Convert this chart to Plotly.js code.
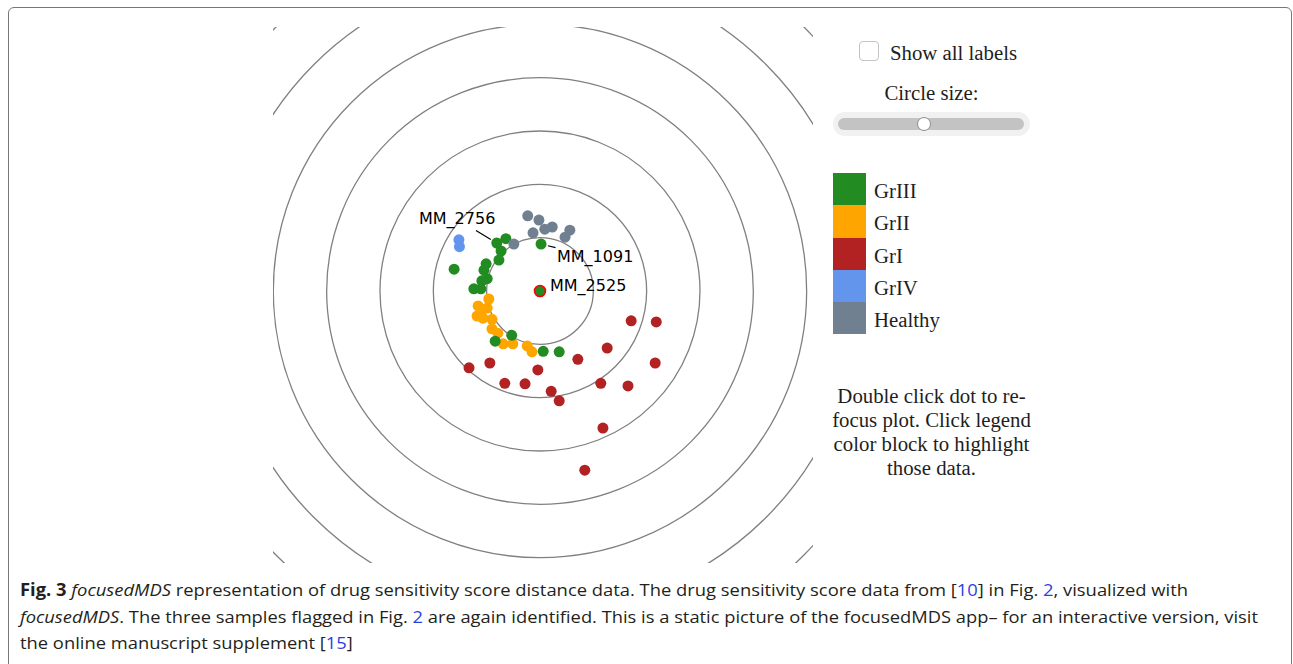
<!DOCTYPE html>
<html>
<head>
<meta charset="utf-8">
<script src="https://cdn.plot.ly/plotly-3.0.1.min.js"></script>
<style>
  html, body { margin:0; padding:0; width:1293px; height:664px; overflow:hidden; background:#fff; }
  #frame { position:absolute; left:8px; top:7px; width:1284px; height:720px; border:1.4px solid #777; border-radius:6px; box-sizing:border-box; }
  #plot { position:absolute; left:0; top:0; width:1293px; height:664px; }
  .serif { font-family:"Liberation Serif", "DejaVu Serif", serif; color:#1e1e1e; font-size:20.8px; }
  #chk { position:absolute; left:859px; top:41px; width:20px; height:20px; border:1px solid #c4c4c4; border-radius:4px; box-sizing:border-box; background:#fff; }
  #chkLabel { position:absolute; left:890px; top:41px; line-height:24px; white-space:nowrap; }
  #sizeLabel { position:absolute; left:833px; width:197px; top:81px; line-height:24px; text-align:center; }
  #sliderOuter { position:absolute; left:833px; top:112px; width:197px; height:24px; border-radius:12px; background:#f1f1f1; }
  #sliderTrack { position:absolute; left:838px; top:118px; width:186px; height:12px; border-radius:6px; background:#c3c3c3; }
  #sliderThumb { position:absolute; left:917px; top:117px; width:14px; height:14px; border-radius:50%; background:#fff; border:1px solid #8d8d8d; box-sizing:border-box; }
  #legend { position:absolute; left:833px; top:173px; }
  .lrow { position:relative; height:32.3px; }
  .lsw { position:absolute; left:0; top:0; width:33px; height:32.3px; }
  .ltx { position:absolute; left:41px; top:6px; line-height:24px; white-space:nowrap; }
  #note { position:absolute; left:821px; width:221px; top:384px; line-height:24px; text-align:center; }
  #caption { position:absolute; left:20px; top:577px; font-family:"Open Sans","Noto Sans",sans-serif; font-size:17px; color:#231f20; }
  .cl { white-space:nowrap; height:26.5px; line-height:26.5px; transform-origin:0 50%; display:block; width:max-content; }
  .lnk { color:#2f3fe0; }
</style>
</head>
<body>
<div id="frame"></div>
<div id="plot"></div>
<div id="chk"></div>
<div id="chkLabel" class="serif">Show all labels</div>
<div id="sizeLabel" class="serif">Circle size:</div>
<div id="sliderOuter"></div>
<div id="sliderTrack"></div>
<div id="sliderThumb"></div>
<div id="legend" class="serif"></div>
<div id="note" class="serif">Double click dot to re-<br>focus plot. Click legend<br>color block to highlight<br>those data.</div>
<div id="caption">
  <span class="cl" id="c1"><b>Fig. 3</b> <i>focusedMDS</i> representation of drug sensitivity score distance data. The drug sensitivity score data from [<span class="lnk">10</span>] in Fig. <span class="lnk">2</span>, visualized with</span>
  <span class="cl" id="c2"><i>focusedMDS</i>. The three samples flagged in Fig. <span class="lnk">2</span> are again identified. This is a static picture of the focusedMDS app– for an interactive version, visit</span>
  <span class="cl" id="c3">the online manuscript supplement [<span class="lnk">15</span>]</span>
</div>
<script>
// ---- data (distance units; one ring = 1 unit, focal sample at origin) ----
const categories = ['GrIII', 'GrII', 'GrI', 'GrIV', 'Healthy'];
const categoryColors = ['#228B22', '#FFA500', '#B22222', '#6495ED', '#708090'];

const grIII_x = [0.00, 0.02, -0.81, -0.64, -0.73, -0.77, -1.01, -1.05, -0.99, -1.09, -1.24, -1.11, -1.61, -0.53, -0.84, 0.06, 0.36];
const grIII_y = [0.00, 0.88, 0.90, 0.98, 0.75, 0.58, 0.51, 0.39, 0.23, 0.19, 0.04, 0.04, 0.41, -0.83, -0.94, -1.13, -1.14];
const grIII_labels = ['MM_2525', 'MM_1091', 'MM_2756', '', '', '', '', '', '', '', '', '', '', '', '', '', ''];

const grII_x = [-0.96, -1.16, -0.99, -1.18, -1.07, -0.90, -1.11, -0.90, -0.79, -0.69, -0.51, -0.24, -0.15];
const grII_y = [-0.15, -0.28, -0.32, -0.47, -0.51, -0.53, -0.41, -0.71, -0.79, -0.99, -0.99, -1.03, -1.14];

const grI_x = [1.71, 2.18, 1.26, 2.16, 0.71, -0.04, -0.94, -1.33, -0.66, -0.28, 0.21, 0.36, 1.14, 1.65, 1.18, 0.84];
const grI_y = [-0.56, -0.58, -1.07, -1.35, -1.28, -1.48, -1.35, -1.44, -1.73, -1.74, -1.88, -2.06, -1.73, -1.78, -2.57, -3.36];

const grIV_x = [-1.52, -1.51];
const grIV_y = [0.96, 0.83];

const healthy_x = [-0.23, -0.02, 0.09, 0.23, -0.13, -0.49, 0.56, 0.47];
const healthy_y = [1.41, 1.33, 1.16, 1.20, 1.09, 0.88, 1.14, 1.01];

const focalSample = 'MM_2525';
const ringRadii = [1, 2, 3, 4, 5, 6, 7, 8];

// ---- label offsets (pixels) ----
const labelStyle = {
  'MM_2525': {arrow: false, xshift: 8, yshift: 5},
  'MM_1091': {arrow: true, ax: 54, ay: 13},
  'MM_2756': {arrow: true, ax: -40, ay: -24}
};

const series = [
  {name: 'GrI', x: grI_x, y: grI_y},
  {name: 'GrII', x: grII_x, y: grII_y},
  {name: 'GrIII', x: grIII_x, y: grIII_y, labels: grIII_labels},
  {name: 'GrIV', x: grIV_x, y: grIV_y},
  {name: 'Healthy', x: healthy_x, y: healthy_y}
];

const traces = series.map(s => {
  const col = categoryColors[categories.indexOf(s.name)];
  const labs = s.labels || s.x.map(() => '');
  return {
    type: 'scatter', mode: 'markers', name: s.name, x: s.x, y: s.y, text: labs,
    hoverinfo: 'text', showlegend: false,
    marker: {
      size: 11, color: col,
      line: {
        color: labs.map(l => l === focalSample ? '#ff0000' : 'rgba(0,0,0,0)'),
        width: labs.map(l => l === focalSample ? 1.6 : 0)
      }
    }
  };
});

const annotations = [];
series.forEach(s => {
  (s.labels || []).forEach((l, i) => {
    if (!l) return;
    const st = labelStyle[l];
    const a = {x: s.x[i], y: s.y[i], xref: 'x', yref: 'y', text: l,
      font: {family: 'DejaVu Sans', size: 16, color: '#000'}};
    if (st.arrow) {
      Object.assign(a, {showarrow: true, ax: st.ax, ay: st.ay, arrowhead: 0, arrowwidth: 1.2, arrowcolor: '#000', standoff: 7});
    } else {
      Object.assign(a, {showarrow: false, xanchor: 'left', xshift: st.xshift, yshift: st.yshift});
    }
    annotations.push(a);
  });
});

const shapes = ringRadii.map(r => ({
  type: 'circle', xref: 'x', yref: 'y', x0: -r, x1: r, y0: -r, y1: r,
  line: {color: '#808080', width: 1.3}, layer: 'below'
}));

const layout = {
  width: 1293, height: 664,
  margin: {l: 273, r: 480, t: 27, b: 101, pad: 0},
  paper_bgcolor: 'rgba(0,0,0,0)', plot_bgcolor: 'rgba(0,0,0,0)',
  xaxis: {range: [-5.006, 5.119], visible: false, showgrid: false, zeroline: false, fixedrange: true},
  yaxis: {range: [-5.10, 4.95], visible: false, showgrid: false, zeroline: false, fixedrange: true},
  shapes: shapes,
  annotations: annotations,
  showlegend: false
};

Plotly.newPlot('plot', traces, layout, {displayModeBar: false, staticPlot: true});

// ---- custom legend blocks ----
const leg = document.getElementById('legend');
categories.forEach((c, i) => {
  const row = document.createElement('div');
  row.className = 'lrow';
  row.innerHTML = '<div class="lsw" style="background:' + categoryColors[i] + '"></div><div class="ltx">' + c + '</div>';
  leg.appendChild(row);
});

// ---- fit caption lines to the reference line widths ----
const targets = [1168, 1238];
const scales = [];
['c1', 'c2'].forEach((id, i) => {
  const el = document.getElementById(id);
  const w = el.getBoundingClientRect().width;
  const s = targets[i] / w;
  scales.push(s);
  el.style.transform = 'scaleX(' + s + ')';
});
document.getElementById('c3').style.transform = 'scaleX(' + ((scales[0] + scales[1]) / 2) + ')';
</script>
</body>
</html>
